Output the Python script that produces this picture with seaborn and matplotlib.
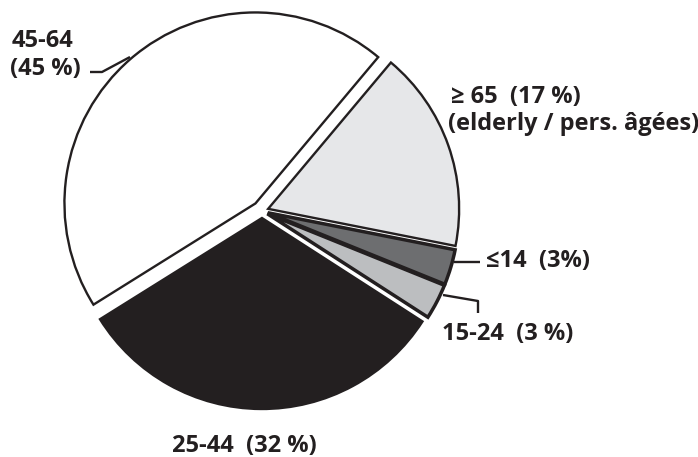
import matplotlib
matplotlib.use("Agg")
import matplotlib.pyplot as plt
import seaborn as sns

# ---- data ----
age_groups = ["45-64", "25-44", "15-24", "≤14", "≥ 65"]
shares = [45, 32, 3, 3, 17]
share_labels = ["(45 %)", "(32 %)", "(3 %)", "(3%)", "(17 %)"]
colors = ["#ffffff", "#231f20", "#bcbec0", "#6d6e70", "#e6e7e9"]
explode_px = [10, 7, 6, 6, 6.5]

sns.set_theme(style="white")
plt.rcParams['font.family'] = ['Open Sans', 'DejaVu Sans']

W, H = 698, 457
fig = plt.figure(figsize=(W / 100, H / 100), dpi=100)
ax = fig.add_axes([0, 0, 1, 1])
INK = "#231f20"
R = 191
cx, cy = 262, H - 211
wedges, _ = ax.pie(shares, colors=colors, startangle=50, counterclock=True,
                   radius=R, center=(cx, cy), explode=explode_px,
                   wedgeprops=dict(edgecolor=INK, linewidth=1.7), frame=True)
for w in wedges[2:4]:
    w.set_linewidth(2.5)
ax.set_xlim(0, W)
ax.set_ylim(0, H)
ax.axis('off')

fs = 17
tk = dict(fontsize=fs, fontweight='bold', color=INK, va='center', ha='left')

def Y(y):
    return H - y

ax.text(12, Y(41), age_groups[0], **tk)
ax.text(10, Y(69), share_labels[0], **tk)
ax.text(451, Y(97), f"{age_groups[4]}  {share_labels[4]}", **tk)
ax.text(448, Y(124), "(elderly / pers. âgées)", **tk)
ax.text(486, Y(261), f"{age_groups[3]}  {share_labels[3]}", **tk)
ax.text(442, Y(334), f"{age_groups[2]}  {share_labels[2]}", **tk)
ax.text(172, Y(446), f"{age_groups[1]}  {share_labels[1]}", **tk)

lk = dict(color=INK, linewidth=1.7, solid_capstyle='butt')
ax.plot([90, 102, 130], [Y(72), Y(72), Y(57)], **lk)
ax.plot([454, 480], [Y(262), Y(262)], **lk)
ax.plot([443, 478, 478], [Y(295), Y(301), Y(313)], **lk)

fig.savefig("out.png", dpi=100)
